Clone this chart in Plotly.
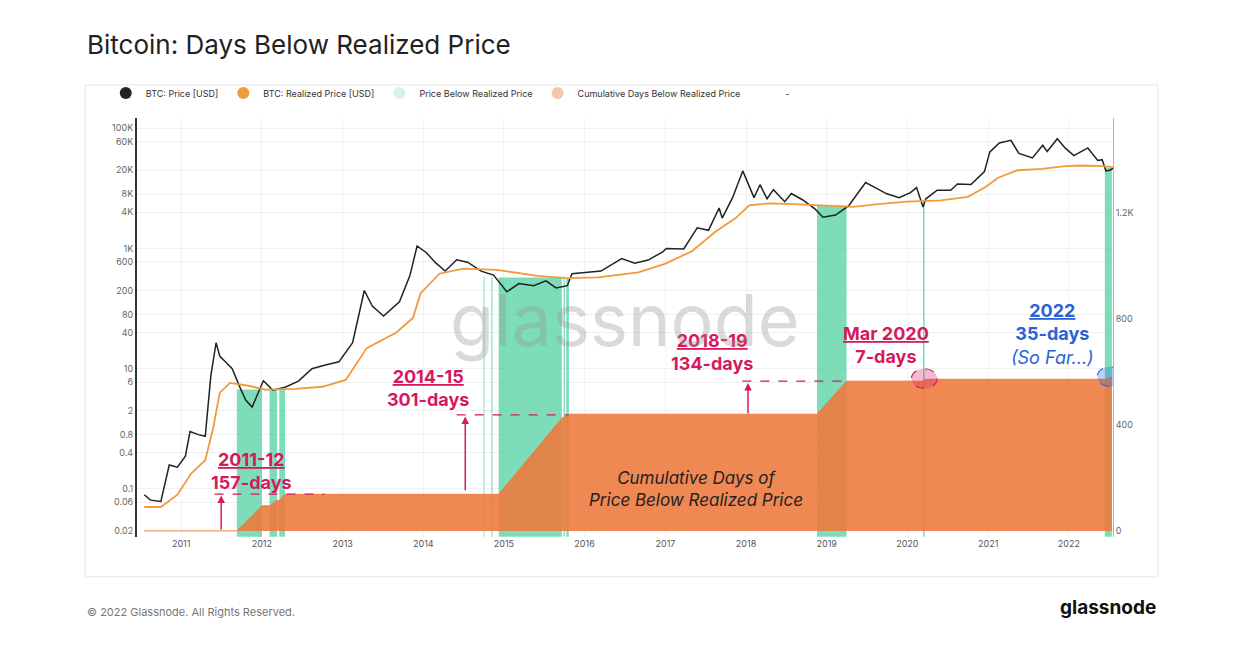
import plotly.graph_objects as go
import math

price_dates = ["2010-07-18","2010-08-15","2010-10-01","2010-11-08","2010-12-15","2011-01-20","2011-02-10","2011-03-20","2011-04-20","2011-05-15","2011-06-08","2011-06-25","2011-07-20","2011-08-20","2011-09-25","2011-10-20","2011-11-18","2012-01-08","2012-02-20","2012-04-15","2012-06-15","2012-08-15","2012-10-15","2012-12-15","2013-02-15","2013-04-09","2013-05-15","2013-07-05","2013-09-15","2013-11-01","2013-12-04","2014-01-15","2014-02-25","2014-04-10","2014-06-01","2014-07-20","2014-09-20","2014-11-15","2015-01-14","2015-03-10","2015-05-15","2015-07-10","2015-08-25","2015-10-15","2015-11-05","2016-01-15","2016-03-15","2016-06-17","2016-08-15","2016-10-15","2016-12-20","2017-01-05","2017-03-25","2017-05-25","2017-07-15","2017-09-01","2017-09-15","2017-11-01","2017-12-17","2018-02-06","2018-03-05","2018-04-06","2018-05-05","2018-06-25","2018-07-25","2018-09-15","2018-11-10","2018-12-15","2019-02-10","2019-04-10","2019-06-26","2019-08-15","2019-09-30","2019-11-25","2020-01-15","2020-02-12","2020-03-12","2020-03-25","2020-05-15","2020-07-15","2020-08-15","2020-10-15","2020-12-15","2021-01-08","2021-02-20","2021-04-14","2021-05-20","2021-07-20","2021-09-05","2021-09-25","2021-11-10","2021-12-15","2022-01-24","2022-03-28","2022-05-12","2022-06-01","2022-06-18","2022-07-05","2022-07-20"]
price_values = [0.08,0.065,0.062,0.25,0.23,0.35,0.9,0.8,0.75,7.5,27,16,13,10,4.8,3.0,2.3,6.3,4.4,4.9,6.2,10,11.5,13,27,200,110,75,130,350,1100,850,580,420,650,590,420,360,190,260,240,290,220,240,380,400,420,680,570,640,880,1000,980,2200,2000,4700,3200,7000,19500,7000,11500,6700,9500,6000,8200,6400,4500,3300,3600,5100,12500,10000,8100,7000,8500,10300,4900,6700,9300,9300,11800,11600,19000,40000,57000,63000,38000,32000,52000,41000,67000,47000,35000,47000,29000,30000,19500,20000,21500]

real_dates = ["2010-07-18","2010-10-01","2010-12-15","2011-02-15","2011-04-20","2011-05-25","2011-06-25","2011-08-10","2011-11-01","2012-01-15","2012-06-01","2012-10-01","2013-01-15","2013-04-20","2013-09-01","2013-11-15","2013-12-20","2014-03-15","2014-07-01","2014-12-01","2015-06-01","2015-10-15","2016-03-01","2016-09-01","2017-01-01","2017-05-01","2017-08-15","2017-11-15","2018-01-15","2018-04-15","2018-09-01","2019-01-01","2019-05-01","2019-09-01","2020-01-01","2020-06-01","2020-10-01","2020-12-20","2021-02-15","2021-05-15","2021-09-01","2021-12-15","2022-03-01","2022-06-01","2022-07-20"]
real_values = [0.05,0.05,0.08,0.18,0.3,1.0,4.0,5.8,5.2,4.5,4.6,5.0,6.5,22,40,70,180,380,460,440,350,320,330,400,560,900,1900,3200,5200,5600,5400,5200,4900,5500,6000,6300,7200,10500,15000,20000,21000,23500,24000,23500,22500]

green_starts = ["2011-09-10","2012-02-05","2012-03-20","2014-10-01","2014-11-05","2014-12-08","2015-09-28","2015-10-10","2018-11-18","2020-03-12","2022-06-13"]
green_ends   = ["2012-01-02","2012-03-10","2012-04-15","2014-10-05","2014-11-10","2015-09-20","2015-10-04","2015-10-22","2019-04-01","2020-03-19","2022-07-15"]
green_tops   = [4.5,4.5,4.5,340,340,330,320,320,5200,6300,22000]

cum_dates  = ["2010-07-18","2011-09-10","2012-01-02","2012-02-05","2012-03-10","2012-03-20","2012-04-15","2014-12-08","2015-09-20","2015-10-22","2018-11-18","2019-04-01","2020-03-12","2020-03-19","2022-06-13","2022-07-15"]
cum_values = [0,0,95,95,115,115,138,138,425,440,440,565,565,572,572,580]

label_top = ["2011-12","2014-15","2018-19","Mar 2020","2022"]
label_bottom = ["157-days","301-days","134-days","7-days","35-days"]
label_x = ["2011-11-15","2014-01-20","2017-08-01","2019-09-25","2021-10-20"]
label_y = [0.5,12,48,62,150]
label_color = ["#d6195f","#d6195f","#d6195f","#d6195f","#2b63d6"]

arrow_x = ["2011-07-01","2014-07-10","2018-01-10"]
arrow_y0 = [0.02,0.09,1.7]
arrow_y1 = [0.078,1.6,5.8]
dash_x0 = ["2011-06-01","2014-06-01","2017-12-15"]
dash_x1 = ["2012-10-10","2015-10-20","2019-03-25"]
dash_y = [0.082,1.7,6.2]

fig = go.Figure()
for s, e, t in zip(green_starts, green_ends, green_tops):
    fig.add_trace(go.Scatter(x=[s, s, e, e, s], y=[0.016, t, t, 0.016, 0.016], fill="toself", mode="none",
        fillcolor="rgba(80,210,160,0.75)", showlegend=False, hoverinfo="skip"))
fig.add_trace(go.Scatter(x=cum_dates, y=cum_values, yaxis="y2", fill="tozeroy", mode="lines",
    line=dict(color="#ee8040", width=1), fillcolor="rgba(238,120,60,0.88)", showlegend=False))
fig.add_trace(go.Scatter(x=price_dates, y=price_values, mode="lines", line=dict(color="#222", width=1.5), showlegend=False))
fig.add_trace(go.Scatter(x=real_dates, y=real_values, mode="lines", line=dict(color="#f29a3a", width=1.8), showlegend=False))

legend_names = ["BTC: Price [USD]", "BTC: Realized Price [USD]", "Price Below Realized Price", "Cumulative Days Below Realized Price", "-"]
legend_colors = ["#222222", "#f29a3a", "#d8f2ea", "#f3c6b0", "rgba(0,0,0,0)"]
for n, c in zip(legend_names, legend_colors):
    fig.add_trace(go.Scatter(x=[None], y=[None], mode="markers", marker=dict(color=c, size=7), name=n))

for x0, x1, yv in zip(dash_x0, dash_x1, dash_y):
    fig.add_shape(type="line", x0=x0, x1=x1, y0=yv, y1=yv, line=dict(color="#d6195f", width=1.2, dash="dash"))
for x, y0, y1 in zip(arrow_x, arrow_y0, arrow_y1):
    fig.add_annotation(x=x, y=math.log10(y1), ax=x, ay=math.log10(y0), axref="x", ayref="y",
        showarrow=True, arrowhead=2, arrowwidth=1.5, arrowcolor="#d6195f", text="")
for t1, t2, x, y, c in zip(label_top, label_bottom, label_x, label_y, label_color):
    txt = f"<b><u>{t1}</u></b><br><b>{t2}</b>"
    if t1 == "2022":
        txt += "<br><i>(So Far...)</i>"
    fig.add_annotation(x=x, y=math.log10(y), text=txt, showarrow=False,
                       font=dict(size=18, color=c, family="Inter"), yanchor="top")
fig.add_shape(type="circle", yref="y2", x0="2020-01-20", x1="2020-05-15", y0=538, y1=612,
              line=dict(color="#d6195f", dash="dash", width=1.2), fillcolor="rgba(214,25,95,0.3)")
fig.add_shape(type="circle", yref="y2", x0="2022-05-10", x1="2022-08-30", y0=545, y1=619,
              line=dict(color="#2b63d6", dash="dash", width=1.2), fillcolor="rgba(43,99,214,0.3)")
fig.add_annotation(x="2017-05-20", y=math.log10(0.1), text="<i>Cumulative Days of<br>Price Below Realized Price</i>",
                   showarrow=False, font=dict(size=17, color="#222", family="Inter"))
fig.add_annotation(x=0.5, y=0.52, xref="paper", yref="paper", text="glassnode", showarrow=False,
                   font=dict(size=72, color="rgba(150,150,150,0.35)", family="Inter"))

fig.add_shape(type="rect", xref="paper", yref="paper", x0=-0.053, x1=1.046, y0=-0.095, y1=1.079,
              line=dict(color="#e6e6e6", width=1), layer="below")
fig.add_annotation(xref="paper", yref="paper", x=-0.053, y=1.176, xanchor="left", yanchor="middle",
                   text="Bitcoin: Days Below Realized Price",
                   showarrow=False, font=dict(size=26, color="#222", family="Inter"))
fig.add_annotation(xref="paper", yref="paper", x=-0.053, y=-0.2, xanchor="left", text="© 2022 Glassnode. All Rights Reserved.",
                   showarrow=False, font=dict(size=11, color="#777", family="Inter"))
fig.add_annotation(xref="paper", yref="paper", x=1.046, y=-0.2, xanchor="right", text="<b>glassnode</b>",
                   showarrow=False, font=dict(size=19, color="#111", family="Inter"))

yt = [0.02,0.06,0.1,0.4,0.8,2,6,10,40,80,200,600,1000,4000,8000,20000,60000,100000]
ytl = ["0.02","0.06","0.1","0.4","0.8","2","6","10","40","80","200","600","1K","4K","8K","20K","60K","100K"]
years = list(range(2011, 2023))
fig.update_layout(
    width=1242, height=666, plot_bgcolor="white", paper_bgcolor="white",
    margin=dict(l=129, r=137, t=110, b=137),
    font=dict(family="Inter", color="#555", size=9),
    xaxis=dict(type="date", range=["2010-06-15", "2022-07-20"], tickvals=[f"{y}-01-01" for y in years],
        ticktext=[str(y) for y in years], showgrid=True, gridcolor="#f2f2f2", showline=False, ticks="",
        tickfont=dict(size=9, color="#555")),
    yaxis=dict(type="log", range=[-1.8, 5.17], tickvals=yt, ticktext=ytl, gridcolor="#f0f0f0", showline=True,
        linecolor="#333", linewidth=2, tickfont=dict(size=9, color="#666")),
    yaxis2=dict(overlaying="y", side="right", range=[-23, 1558], tickvals=[0, 400, 800, 1200],
        ticktext=["0", "400", "800", "1.2K"], showgrid=False, showline=True, linecolor="#f5a070", linewidth=1,
        tickfont=dict(size=9, color="#666")),
    legend=dict(orientation="h", x=-0.032, y=1.025, xanchor="left", yanchor="bottom",
        font=dict(size=9, color="#333"), itemsizing="constant", bgcolor="rgba(0,0,0,0)"),
    showlegend=True,
)
fig.write_html("out.html")
